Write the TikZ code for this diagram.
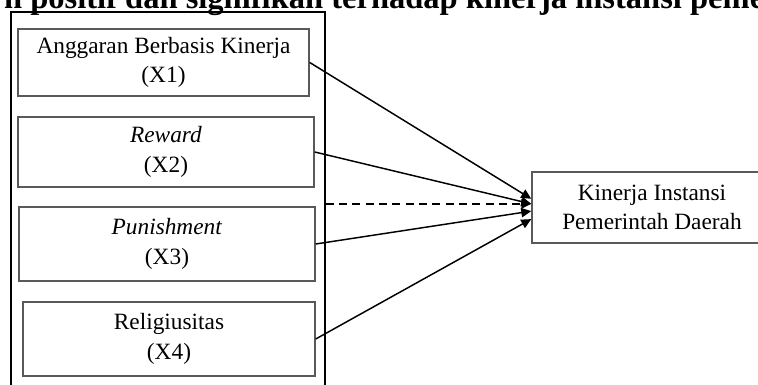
\documentclass[tikz,border=0pt]{standalone}
\usepackage{fontspec}
\setmainfont{Liberation Serif}
\usetikzlibrary{arrows.meta,positioning,calc}

\begin{document}
\begin{tikzpicture}[
    x=0.75pt, y=-0.75pt,
    varbox/.style={rectangle, draw=black!65, line width=1.1pt, align=center, inner sep=0pt, font=\fontsize{17.5}{22}\selectfont},
    groupbox/.style={rectangle, draw=black, line width=0.8pt, inner sep=0pt, minimum width=235.5pt, minimum height=291pt},
    arrow/.style={-{Triangle[length=7.5pt, width=7pt]}, line width=1.1pt, draw=black},
    dasharrow/.style={arrow, line width=1.7pt, dash pattern=on 6pt off 4pt}
]
\useasboundingbox (0,0) rectangle (758,385);
\clip (0,0) rectangle (758,385);

% Nodes
\node[anchor=base west, inner sep=0pt, font=\fontsize{24.4}{28}\selectfont\bfseries] (title) at (3.8,9) {h positif dan signifikan terhadap kinerja instansi pemer};
\node[groupbox] (grp) at (168,206) {};
\node[varbox, minimum width=218.25pt, minimum height=50.25pt] (abk) at (163.5,62.5) {Anggaran Berbasis Kinerja\\(X1)};
\node[varbox, minimum width=222pt, minimum height=52.5pt] (rew) at (166,152) {\textit{Reward}\\(X2)};
\node[varbox, minimum width=222pt, minimum height=55.5pt] (pun) at (167,244) {\textit{Punishment}\\(X3)};
\node[varbox, minimum width=219pt, minimum height=55.5pt] (rel) at (169,339) {Religiusitas\\(X4)};
\node[varbox, minimum width=180pt, minimum height=53.25pt] (kin) at (652,207.5) {Kinerja Instansi\\Pemerintah Daerah};

\coordinate (t1) at ($(kin.north west)!0.38!(kin.south west)$);
\coordinate (t2) at ($(kin.north west)!0.45!(kin.south west)$);
\coordinate (t3) at ($(kin.north west)!0.55!(kin.south west)$);
\coordinate (t4) at ($(kin.north west)!0.66!(kin.south west)$);

% Edges
\draw[arrow] (abk.east) -- (t1);
\draw[arrow] (rew.east) -- (t2);
\draw[dasharrow] (grp.east |- t2) -- (t2);
\draw[arrow] (pun.east) -- (t3);
\draw[arrow] (rel.east) -- (t4);

\end{tikzpicture}
\end{document}
